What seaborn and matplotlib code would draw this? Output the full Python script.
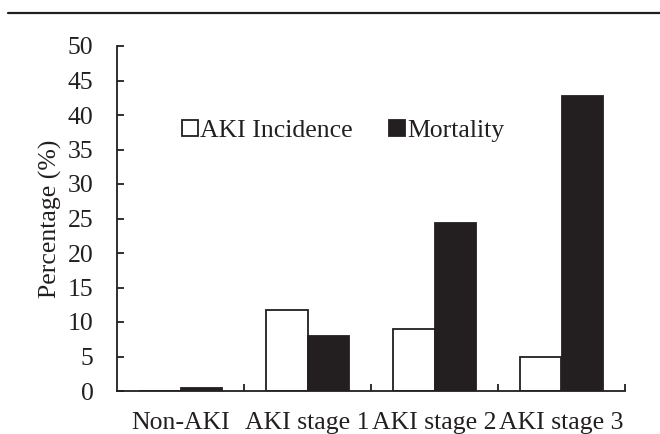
import matplotlib
matplotlib.use("Agg")
import matplotlib.pyplot as plt
from matplotlib.lines import Line2D
from matplotlib.patches import Patch
import seaborn as sns
import pandas as pd

# AKI stages and the two percentage series per stage
categories = ["Non-AKI", "AKI stage 1", "AKI stage 2", "AKI stage 3"]
incidence = [0.0, 11.8, 9.0, 5.0]
mortality = [0.5, 8.0, 24.4, 42.8]
series_names = ["AKI Incidence", "Mortality"]
y_ticks = [0, 5, 10, 15, 20, 25, 30, 35, 40, 45, 50]

df = pd.DataFrame({
    "Stage": categories * 2,
    "Series": [series_names[0]] * len(categories) + [series_names[1]] * len(categories),
    "Percentage": incidence + mortality,
})

sns.set_theme(style="white")
plt.rcParams["font.family"] = ["Liberation Serif", "DejaVu Serif"]

dark = "#231f20"
fig = plt.figure(figsize=(6.6, 4.34), dpi=100)
ax = fig.add_axes([117 / 660, 1 - 391 / 434, (625 - 117) / 660, (391 - 46) / 434])

sns.barplot(data=df, x="Stage", y="Percentage", hue="Series", order=categories,
            hue_order=series_names, palette=["white", dark], width=0.66,
            edgecolor=dark, linewidth=1.3, saturation=1, ax=ax, legend=False)

ax.set_xlim(-0.5, len(categories) - 0.5)
ax.set_ylim(0, 50)
ax.set_yticks(y_ticks)
ax.set_yticklabels([str(t) for t in y_ticks])
ax.set_ylabel("Percentage (%)", fontsize=18.5, color="#231f20", labelpad=4)
ax.set_xlabel("")

# Category labels centred, boundary ticks between groups
ax.set_xticks(range(len(categories)))
ax.set_xticklabels(categories)
ax.set_xticks([i + 0.5 for i in range(len(categories))], minor=True)
ax.tick_params(axis="x", which="major", length=0, pad=15, labelsize=18.5, labelcolor=dark)
ax.tick_params(axis="x", which="minor", direction="in", length=5, width=1.3, color=dark, bottom=True)
ax.tick_params(axis="y", direction="in", length=5, width=1.3, color=dark, left=True,
               pad=17, labelsize=18.5, labelcolor=dark)

for s in ["top", "right"]:
    ax.spines[s].set_visible(False)
for s in ["left", "bottom"]:
    ax.spines[s].set_color(dark)
    ax.spines[s].set_linewidth(1.3)
ax.grid(False)

handles = [Patch(facecolor="white", edgecolor=dark, linewidth=1.3),
           Patch(facecolor=dark, edgecolor=dark, linewidth=1.3)]
fig.legend(handles, series_names, loc="center", bbox_to_anchor=(343 / 660, 1 - 131 / 434),
           ncol=2, frameon=False, fontsize=18.5, handlelength=0.62, handleheight=0.62,
           handletextpad=0.1, columnspacing=1.4, labelcolor=dark)

# Rule across the top of the figure
fig.add_artist(Line2D([8 / 660, 1.0], [1 - 13 / 434, 1 - 13 / 434], color=dark, linewidth=1.6,
                      transform=fig.transFigure))

fig.savefig("out.png", dpi=100)
